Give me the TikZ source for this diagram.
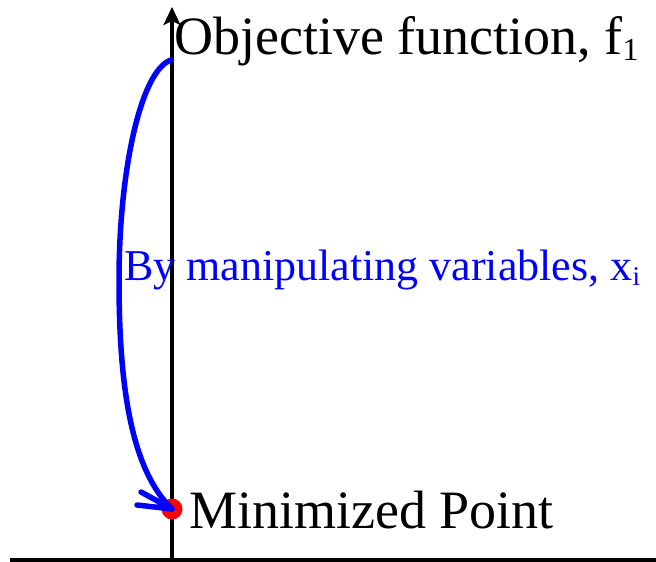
\documentclass[tikz,border=0pt]{standalone}
\usepackage{fontspec}
\setmainfont{Liberation Serif}
\usetikzlibrary{arrows.meta}
\begin{document}
\begin{tikzpicture}[x=1pt,y=-1pt,
  axis/.style={line width=4pt,black},
  bigtext/.style={inner sep=0pt,anchor=base west,font=\fontsize{54}{60}\selectfont},
  bluetext/.style={inner sep=0pt,anchor=base west,text=blue,font=\fontsize{44}{50}\selectfont},
  curvestyle/.style={blue,line width=5.5pt,line cap=round,line join=round}]
\useasboundingbox (0,0) rectangle (656,562);
% axes
\coordinate (vbot) at (172,562);
\coordinate (vtop) at (172,7);
\coordinate (hleft) at (10,560);
\coordinate (hright) at (656,560);
\draw[axis] (hleft) -- (hright);
\draw[axis,-{Stealth[length=18pt,width=17pt,inset=4pt]}] (vbot) -- (vtop);
% texts
\node[bigtext] (obj) at (174,54) {Objective function, f\raisebox{-6pt}{\fontsize{32}{32}\selectfont 1}};
\node[bigtext] (minp) at (189,528) {Minimized Point};
\node[bluetext] (manip) at (124,280) {By manipulating variables, x\raisebox{-5pt}{\fontsize{27}{27}\selectfont i}};
% minimized point
\node[circle,fill=red,inner sep=0pt,minimum size=21pt] (dot) at (172,509) {};
% curve
\coordinate (start) at (171,60);
\draw[curvestyle] (start) .. controls (141,70) and (119,170) .. (119,280)
  .. controls (119,390) and (132,470) .. (dot.center);
\draw[curvestyle] ([shift={(-31,-17)}]dot.center) -- (dot.center) -- ([shift={(-35,-4)}]dot.center);
\end{tikzpicture}
\end{document}
